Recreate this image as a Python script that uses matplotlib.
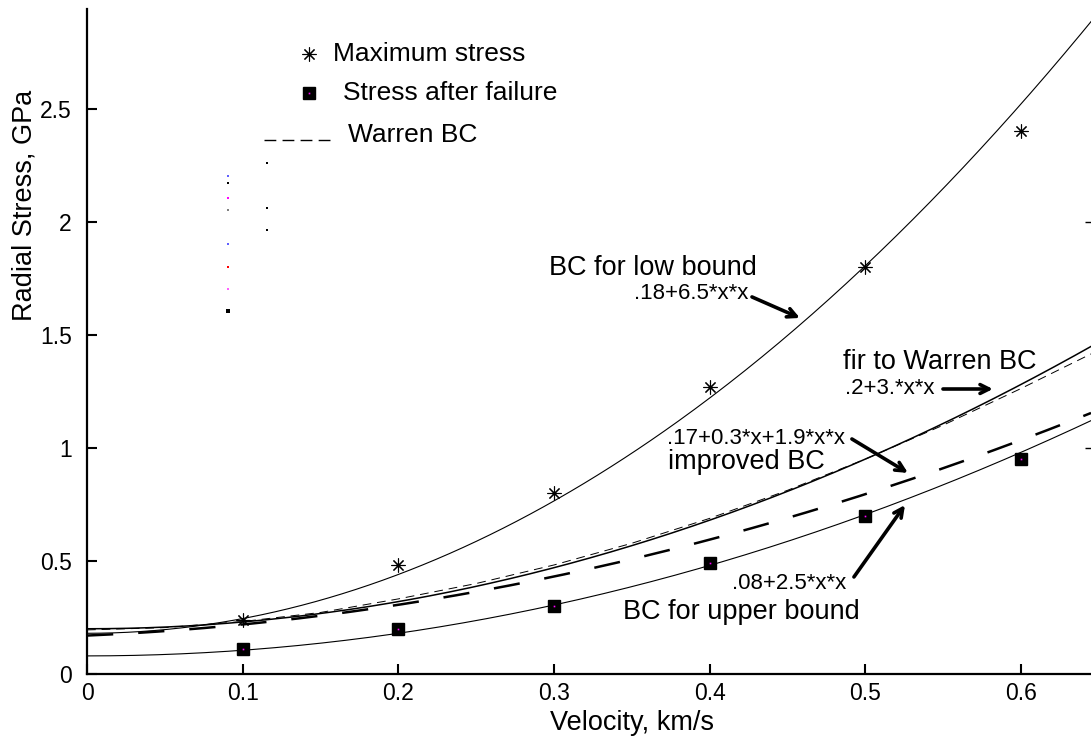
import numpy as np
import matplotlib
matplotlib.use("Agg")
import matplotlib.pyplot as plt

plt.rcParams['font.family'] = ['Liberation Sans', 'DejaVu Sans']

# measured points
velocity = [0.1, 0.2, 0.3, 0.4, 0.5, 0.6]
max_stress = [0.24, 0.48, 0.80, 1.27, 1.80, 2.40]
after_failure = [0.11, 0.20, 0.30, 0.49, 0.70, 0.95]

# Warren BC curve
warren_x = [0, 0.05, 0.1, 0.15, 0.2, 0.25, 0.3, 0.35, 0.4, 0.45, 0.5, 0.55, 0.6, 0.645]
warren_y = [0.195, 0.205, 0.232, 0.272, 0.332, 0.400, 0.482, 0.578, 0.688, 0.812, 0.950, 1.100, 1.262, 1.415]

# stray dots left in the original figure
stray_x = [0.0906] * 8 + [0.1156] * 3
stray_y = [2.202, 2.171, 2.104, 2.053, 1.901, 1.799, 1.702, 1.605, 2.259, 2.060, 1.963]
stray_c = ['#6060ff', 'black', 'magenta', 'gray', '#6060ff', 'red', '#ff60ff', 'black', 'black', 'black', 'black']
stray_s = [1.5, 1.5, 1.5, 1.5, 1.5, 1.5, 1.5, 3, 1.5, 1.5, 2]
edge_x = [0.643, 0.643]
edge_y = [2.0, 1.0]

xticks = [0, 0.1, 0.2, 0.3, 0.4, 0.5, 0.6]
xticklabels = ['0', '0.1', '0.2', '0.3', '0.4', '0.5', '0.6']
yticks = [0, 0.5, 1, 1.5, 2, 2.5]
yticklabels = ['0', '0.5', '1', '1.5', '2', '2.5']

x = np.linspace(0, 0.645, 300)
low_bound = 0.18 + 6.5 * x * x
warren_fit = 0.2 + 3. * x * x
improved = 0.17 + 0.3 * x + 1.9 * x * x
upper_bound = 0.08 + 2.5 * x * x

star = (8, 2, 0)

fig = plt.figure(figsize=(10.91, 7.42), dpi=100)
ax = fig.add_axes([87 / 1091, 1 - 674 / 742, 1 - 87 / 1091, (674 - 9) / 742])

ax.plot(x, low_bound, color='black', lw=0.8)
ax.plot(x, upper_bound, color='black', lw=0.8)
ax.plot(x, warren_fit, color='black', lw=1.1)
ax.plot(warren_x, warren_y, color='black', lw=0.7, dashes=(9, 6))
ax.plot(x, improved, color='black', lw=1.8, dashes=(10.5, 10))

ax.plot(velocity, max_stress, ls='none', marker=star, ms=10, mew=0.8, color='black')
ax.plot(velocity, after_failure, ls='none', marker='s', ms=9, color='black')
ax.plot(velocity, after_failure, ls='none', marker='s', ms=1.2, color='magenta', mew=0)

for sx, sy, sc, ss in zip(stray_x, stray_y, stray_c, stray_s):
    ax.plot(sx, sy, ls='none', marker='s', ms=ss, color=sc, mew=0)
ax.plot(edge_x, edge_y, ls='none', marker='_', ms=4, mew=1, color='black')

# legend, drawn by hand
ax.plot(0.1426, 2.741, marker=star, ms=10, mew=0.8, color='black')
ax.text(0.158, 2.741, 'Maximum stress', fontsize=19, va='center')
ax.plot(0.1426, 2.569, marker='s', ms=9, color='black')
ax.plot(0.1426, 2.569, marker='s', ms=1.2, color='magenta', mew=0)
ax.text(0.1645, 2.569, 'Stress after failure', fontsize=19, va='center')
ax.plot([0.1137, 0.1561], [2.361, 2.361], color='black', lw=1.0, dashes=(8.5, 4.5))
ax.text(0.1677, 2.383, 'Warren BC', fontsize=19, va='center')

# curve notes
arrow = dict(arrowstyle='->', lw=2.6, color='black', mutation_scale=16, shrinkA=0, shrinkB=0)
ax.text(0.4304, 1.795, 'BC for low bound', fontsize=19.5, ha='right', va='center')
ax.text(0.4246, 1.684, '.18+6.5*x*x', fontsize=16, ha='right', va='center')
ax.annotate('', xy=(0.458, 1.574), xytext=(0.4272, 1.667), arrowprops=arrow)

ax.text(0.4856, 1.379, 'fir to Warren BC', fontsize=19.5, va='center')
ax.text(0.4869, 1.260, '.2+3.*x*x', fontsize=16, va='center')
ax.annotate('', xy=(0.582, 1.260), xytext=(0.5499, 1.260), arrowprops=arrow)

ax.text(0.3726, 1.043, '.17+0.3*x+1.9*x*x', fontsize=16, va='center')
ax.text(0.3732, 0.937, 'improved BC', fontsize=19.5, va='center')
ax.annotate('', xy=(0.5274, 0.889), xytext=(0.4914, 1.039), arrowprops=arrow)

ax.text(0.4143, 0.402, '.08+2.5*x*x', fontsize=16, va='center')
ax.text(0.3443, 0.274, 'BC for upper bound', fontsize=19.5, va='center')
ax.annotate('', xy=(0.5255, 0.747), xytext=(0.4927, 0.429), arrowprops=arrow)

ax.set_xlim(0, 0.645)
ax.set_ylim(0, 2.94)
ax.set_xticks(xticks)
ax.set_xticklabels(xticklabels)
ax.set_yticks(yticks)
ax.set_yticklabels(yticklabels)
ax.tick_params(direction='in', length=7.5, width=1.5, labelsize=16.5)
ax.tick_params(axis='y', pad=11)
ax.tick_params(axis='x', pad=6)
ax.spines['top'].set_visible(False)
ax.spines['right'].set_visible(False)
ax.spines['left'].set_linewidth(1.6)
ax.spines['bottom'].set_linewidth(1.6)

fig.text(632 / 1091, 1 - 723 / 742, 'Velocity, km/s', fontsize=19.5, ha='center', va='center')
fig.text(25 / 1091, 1 - 205 / 742, 'Radial Stress, GPa', fontsize=19.5, rotation=90, ha='center', va='center')

fig.savefig('out.png', dpi=100)
